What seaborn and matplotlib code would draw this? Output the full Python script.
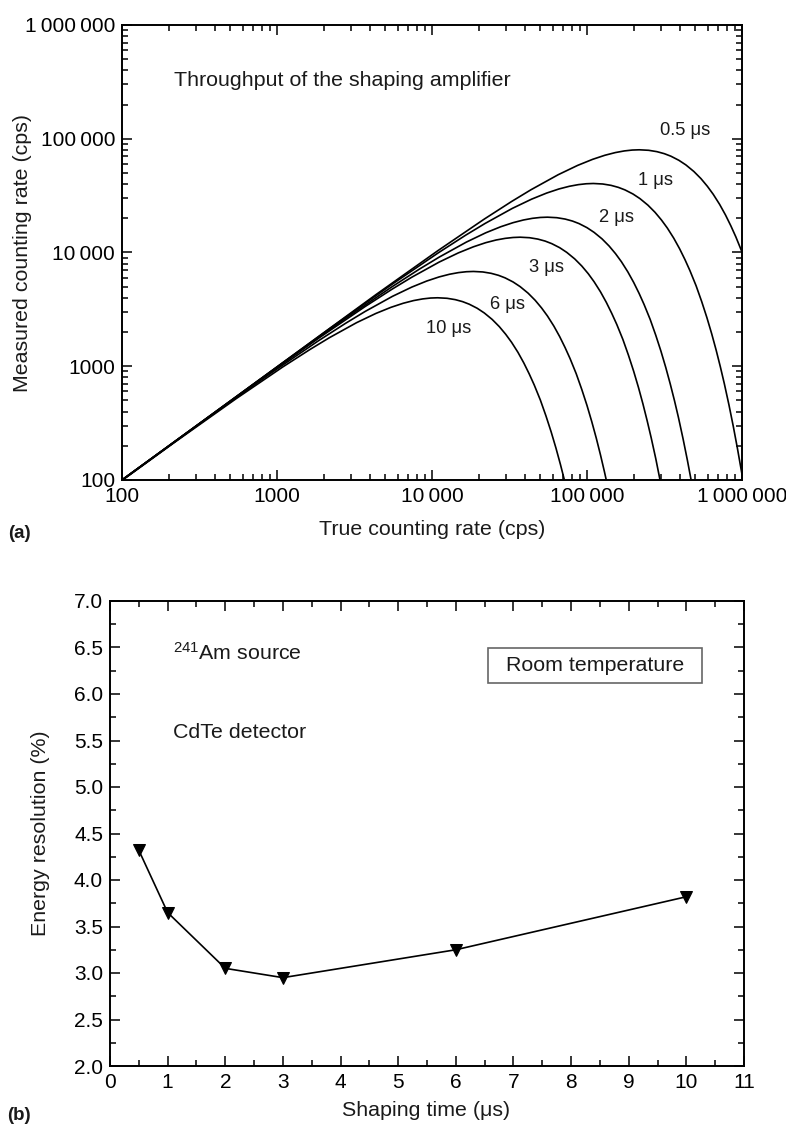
import matplotlib
matplotlib.use("Agg")
import matplotlib.pyplot as plt
import seaborn as sns
import pandas as pd
from matplotlib.ticker import LogLocator, MultipleLocator, NullFormatter, FuncFormatter, FormatStrFormatter, FixedLocator
from matplotlib.patches import Rectangle

# ---------------- data ----------------
# Panel (a): true counting rate (cps) -> measured counting rate (cps)
true_05 = [100, 4348, 10870, 21740, 32610, 43480, 65220, 86960, 108700, 130400, 152200,
           173900, 195700, 217400, 250000, 282600, 315200, 347800, 391300, 434800,
           489100, 543500, 597800, 652200, 717400, 782600, 847800, 913000, 1000000]
meas_05 = [100, 4262, 10340, 19670, 28070, 35600, 48310, 58290, 65920, 71580, 75570,
           78140, 79550, 79970, 79150, 77010, 73950, 70230, 64680, 58830,
           51550, 44620, 38200, 32480, 26470, 21370, 17130, 13700, 10100]

true_1 = [100, 2198, 5495, 10990, 16480, 21980, 32970, 43960, 54950, 65930, 76920,
          87910, 98900, 109900, 126400, 142900, 159300, 175800, 197800, 219800,
          247300, 274700, 302200, 329700, 362600, 395600, 428600, 461500, 505500,
          549500, 593400, 637400, 681300, 725300, 769200, 824200, 879100, 934100, 1000000]
meas_1 = [100, 2154, 5226, 9943, 14190, 17990, 24420, 29460, 33320, 36190, 38200,
          39500, 40210, 40430, 40010, 38930, 37380, 35500, 32700, 29740,
          26060, 22560, 19310, 16420, 13380, 10800, 8657, 6923, 5105,
          3703, 2682, 1931, 1384, 986, 702, 456, 295, 190, 112]

true_2 = [100, 1111, 2778, 5556, 8333, 11110, 16670, 22220, 27780, 33330, 38890,
          44440, 50000, 55560, 63890, 72220, 80560, 88890, 100000, 111100,
          125000, 138900, 152800, 166700, 183300, 200000, 216700, 233300, 255600,
          277800, 300000, 322200, 344400, 366700, 388900, 416700, 444400, 472200, 505600]
meas_2 = [100, 1089, 2642, 5027, 7173, 9097, 12350, 14900, 16850, 18290, 19310,
          19970, 20330, 20440, 20230, 19680, 18900, 17950, 16530, 15030,
          13180, 11400, 9763, 8300, 6765, 5460, 4377, 3500, 2581,
          1872, 1356, 976, 699, 499, 355, 230, 149, 96, 57]

true_3 = [100, 741, 1852, 3704, 5556, 7407, 11110, 14810, 18520, 22220, 25930,
          29630, 33330, 37040, 42590, 48150, 53700, 59260, 66670, 74070,
          83330, 92590, 101900, 111100, 122200, 133300, 144400, 155600, 170400,
          185200, 200000, 214800, 229600, 244400, 259300, 277800, 296300, 314800]
meas_3 = [100, 726, 1761, 3351, 4782, 6064, 8231, 9930, 11230, 12200, 12880,
          13310, 13550, 13630, 13490, 13120, 12600, 11960, 11020, 10020,
          8783, 7602, 6508, 5533, 4510, 3640, 2918, 2333, 1721,
          1248, 904, 651, 466, 332, 236, 154, 99, 64]

true_6 = [100, 370, 926, 1852, 2778, 3704, 5556, 7407, 9259, 11110, 12960,
          14810, 16670, 18520, 21300, 24070, 26850, 29630, 33330, 37040,
          41670, 46300, 50930, 55560, 61110, 66670, 72220, 77780, 85190,
          92590, 100000, 107400, 114800, 122200, 129600, 138900]
meas_6 = [100, 363, 881, 1676, 2391, 3032, 4116, 4965, 5616, 6098, 6437,
          6656, 6777, 6813, 6743, 6560, 6300, 5982, 5510, 5011,
          4392, 3801, 3254, 2767, 2255, 1820, 1459, 1167, 860,
          624, 452, 325, 233, 166, 118, 77]

true_10 = [100, 217, 543, 1087, 1630, 2174, 3261, 4348, 5435, 6522, 7609,
           8696, 9783, 10870, 12500, 14130, 15760, 17390, 19570, 21740,
           24460, 27170, 29890, 32610, 35870, 39130, 42390, 45650, 50000,
           54350, 58700, 63040, 67390, 71740, 76090]
meas_10 = [99, 213, 517, 984, 1403, 1780, 2416, 2914, 3296, 3579, 3779,
           3907, 3978, 3999, 3958, 3851, 3698, 3511, 3234, 2941,
           2578, 2231, 1910, 1624, 1324, 1068, 856, 685, 505,
           366, 265, 191, 137, 98, 69]

curve_labels = ["0.5 μs", "1 μs", "2 μs", "3 μs", "6 μs", "10 μs"]

# Panel (b): shaping time (µs) -> energy resolution (%)
shaping_time = [0.5, 1, 2, 3, 6, 10]
energy_res = [4.32, 3.65, 3.05, 2.95, 3.25, 3.82]

log_tick_values = [100, 1000, 10000, 100000, 1000000]

# ---------------- style ----------------
sns.set_theme(style="ticks", rc={
    "axes.edgecolor": "black", "xtick.color": "black", "ytick.color": "black",
    "text.color": "#1a1a1a", "axes.labelcolor": "#1a1a1a", "axes.linewidth": 1.4,
})
plt.rcParams["font.family"] = ["Liberation Sans", "DejaVu Sans"]
plt.rcParams["mathtext.fontset"] = "custom"
plt.rcParams["mathtext.rm"] = "Liberation Sans"
plt.rcParams["mathtext.it"] = "Liberation Sans:italic"

FS = 15.4
TS = 15

fig = plt.figure(figsize=(7.86, 11.26), dpi=100)
ax1 = fig.add_axes([122 / 786, 1 - 480 / 1126, 620 / 786, 455 / 1126])
ax2 = fig.add_axes([110 / 786, 1 - 1066 / 1126, 634 / 786, 465 / 1126])

# ---------------- panel (a) ----------------
ax1.set_xscale("log")
ax1.set_yscale("log")
series = [(true_05, meas_05), (true_1, meas_1), (true_2, meas_2),
          (true_3, meas_3), (true_6, meas_6), (true_10, meas_10)]
frames = []
for lab, (xs, ys) in zip(curve_labels, series):
    frames.append(pd.DataFrame({"true": xs, "meas": ys, "curve": lab}))
df_a = pd.concat(frames, ignore_index=True)
for lab in curve_labels:
    sub = df_a[df_a["curve"] == lab]
    sns.lineplot(data=sub, x="true", y="meas", ax=ax1, color="black", lw=1.2,
                 sort=False, estimator=None, legend=False)

ax1.set_xlim(100, 1e6)
ax1.set_ylim(100, 1e6)


def thin_fmt(v, pos=None):
    n = int(round(v))
    if n < 10000:
        return str(n)
    return f"{n:,}".replace(",", "\u2009")


ax1.xaxis.set_major_locator(FixedLocator(log_tick_values))
ax1.yaxis.set_major_locator(FixedLocator(log_tick_values))
ax1.xaxis.set_major_formatter(FuncFormatter(thin_fmt))
ax1.yaxis.set_major_formatter(FuncFormatter(thin_fmt))
ax1.xaxis.set_minor_locator(LogLocator(base=10, subs=range(2, 10), numticks=20))
ax1.yaxis.set_minor_locator(LogLocator(base=10, subs=range(2, 10), numticks=20))
ax1.xaxis.set_minor_formatter(NullFormatter())
ax1.yaxis.set_minor_formatter(NullFormatter())

ax1.set_xlabel("True counting rate (cps)", fontsize=FS)
ax1.set_ylabel("Measured counting rate (cps)", fontsize=FS)
ax1.xaxis.set_label_coords(0.5, -0.088)
ax1.yaxis.set_label_coords(-0.145, 0.5)

ax1.text(0.084, 0.879, "Throughput of the shaping amplifier", transform=ax1.transAxes,
         fontsize=FS, ha="left", va="center")
label_pos = [(0.908, 0.769), (0.861, 0.659), (0.798, 0.576),
             (0.685, 0.468), (0.622, 0.385), (0.527, 0.334)]
for lab, (fx, fy) in zip(curve_labels, label_pos):
    ax1.text(fx, fy, lab, transform=ax1.transAxes, fontsize=13.2, ha="center", va="center")

# ---------------- panel (b) ----------------
sns.lineplot(x=shaping_time, y=energy_res, ax=ax2, color="black", lw=1.2,
             marker="v", markersize=9, markeredgecolor="black", markerfacecolor="black",
             sort=False, estimator=None)
ax2.set_xlim(0, 11)
ax2.set_ylim(2.0, 7.0)
ax2.xaxis.set_major_locator(MultipleLocator(1))
ax2.xaxis.set_minor_locator(MultipleLocator(0.5))
ax2.yaxis.set_major_locator(MultipleLocator(0.5))
ax2.yaxis.set_minor_locator(MultipleLocator(0.25))
ax2.yaxis.set_major_formatter(FormatStrFormatter("%.1f"))
ax2.set_xlabel("Shaping time (μs)", fontsize=FS)
ax2.set_ylabel("Energy resolution (%)", fontsize=FS)
ax2.xaxis.set_label_coords(0.498, -0.0753)
ax2.yaxis.set_label_coords(-0.095, 0.5)

ax2.text(0.0994, 0.888, r"$\mathregular{^{241}}$Am source", transform=ax2.transAxes,
         fontsize=FS, ha="left", va="center")
ax2.text(0.0994, 0.718, "CdTe detector", transform=ax2.transAxes,
         fontsize=FS, ha="left", va="center")
box_l, box_r = (488 - 110) / 634, (702 - 110) / 634
ax2.add_patch(Rectangle((box_l, 0.824), box_r - box_l, 0.075, transform=ax2.transAxes,
                        fill=False, edgecolor="#666666", lw=1.2))
ax2.text((box_l + box_r) / 2, 0.8615, "Room temperature", transform=ax2.transAxes,
         fontsize=FS, ha="center", va="center")

for ax in (ax1, ax2):
    ax.tick_params(which="both", direction="in", top=True, right=True, labelsize=TS, width=1.1)
    ax.tick_params(which="major", length=7.5, pad=5)
    ax.tick_params(which="minor", length=4.5)
    for s in ax.spines.values():
        s.set_linewidth(1.4)
        s.set_visible(True)

fig.text(19 / 786, 1 - 533 / 1126, "(a)", fontsize=13.5, fontweight="bold", ha="center", va="center")
fig.text(19 / 786, 1 - 1115 / 1126, "(b)", fontsize=13.5, fontweight="bold", ha="center", va="center")

fig.savefig("out.png", dpi=100)
